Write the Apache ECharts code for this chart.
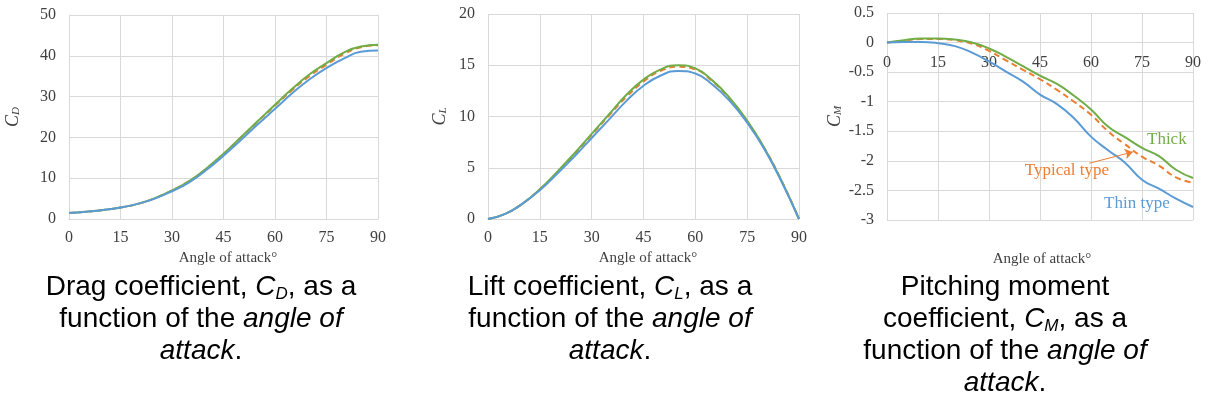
<!DOCTYPE html>
<html><head><meta charset="utf-8">
<script src="https://cdn.jsdelivr.net/npm/echarts@6/dist/echarts.min.js"></script>
<style>html,body{margin:0;padding:0;background:#fff}#c{width:1209px;height:405px}</style>
</head><body><div id="c"></div>
<script>
const angles = [0,5,10,15,20,25,30,35,40,45,50,55,60,65,70,75,80,85,90];

const cdThin    = [1.5,1.8,2.2,2.8,3.7,5.0,6.8,9.0,12.0,15.5,19.3,23.2,27.0,30.8,34.2,37.0,39.3,41.0,41.3];
const cdTypical = [1.5,1.8,2.2,2.8,3.7,5.1,7.0,9.3,12.3,15.9,19.9,23.9,27.8,31.6,35.0,37.8,40.4,42.1,42.6];
const cdThick   = [1.5,1.8,2.2,2.8,3.7,5.1,7.0,9.3,12.4,16.0,20.0,24.0,28.0,31.9,35.4,38.2,40.8,42.3,42.7];

const clThin    = [0,0.5,1.5,2.8,4.4,6.1,7.9,9.7,11.5,13.0,14.0,14.45,14.2,13.1,11.5,9.4,6.8,3.6,0];
const clTypical = [0,0.5,1.5,2.9,4.5,6.3,8.2,10.1,11.9,13.4,14.45,14.85,14.6,13.4,11.7,9.5,6.9,3.7,0];
const clThick   = [0,0.5,1.5,2.9,4.6,6.4,8.3,10.2,12.1,13.6,14.6,15.0,14.7,13.5,11.8,9.6,6.9,3.7,0];

const cmThin    = [0,0.01,0.01,-0.01,-0.06,-0.17,-0.32,-0.49,-0.66,-0.88,-1.04,-1.28,-1.59,-1.82,-2.03,-2.32,-2.47,-2.64,-2.78];
const cmTypical = [0,0.03,0.06,0.06,0.04,-0.02,-0.14,-0.30,-0.46,-0.62,-0.80,-1.00,-1.22,-1.50,-1.72,-1.93,-2.08,-2.28,-2.37];
const cmThick   = [0,0.04,0.07,0.07,0.05,0.0,-0.10,-0.24,-0.40,-0.56,-0.70,-0.90,-1.13,-1.42,-1.60,-1.78,-1.92,-2.15,-2.29];

const BLUE='#5B9BD5', ORANGE='#ED7D31', GREEN='#70AD47', GRID='#D9D9D9', TXT='#404040';
const SERIF='"Liberation Serif","Times New Roman",serif';
const SANS='"Liberation Sans",Arial,sans-serif';

const pairs = v => angles.map((a,i)=>[a,v[i]]);

const grids = [
  {left:69, top:15, width:309, height:204},
  {left:488, top:14, width:311, height:205},
  {left:887, top:13, width:306, height:207}
];
function xAx(i){
  return {type:'value', gridIndex:i, min:0, max:90, interval:15,
    axisLine:{show:true, onZero:false, lineStyle:{color:GRID, width:1}},
    axisTick:{show:false},
    axisLabel:{color:TXT, fontFamily:SERIF, fontSize:16, margin:11},
    splitLine:{show:true, lineStyle:{color:GRID, width:1}}};
}
function yAx(i,min,max,interval,sub,gap){
  return {type:'value', gridIndex:i, min:min, max:max, interval:interval,
    axisLine:{show:false}, axisTick:{show:false},
    axisLabel:{color:TXT, fontFamily:SERIF, fontSize:16, margin:13},
    splitLine:{show:true, lineStyle:{color:GRID, width:1}},
    name:'{i|C}{s|'+sub+'}', nameLocation:'middle', nameRotate:90, nameGap:gap,
    nameTextStyle:{rich:{
      i:{fontFamily:SERIF, fontStyle:'italic', fontSize:18, color:TXT},
      s:{fontFamily:SERIF, fontStyle:'italic', fontSize:11, color:TXT, verticalAlign:'bottom', padding:[7,0,0,0]}
    }}};
}
function line(name,data,color,xi,dashed){
  return {name:name, type:'line', xAxisIndex:xi, yAxisIndex:xi, data:pairs(data), smooth:true,
    showSymbol:false, symbol:'none', z: dashed?2:3,
    lineStyle:{color:color, width:2, type: dashed?[6,4]:'solid'}};
}
function note(x,y,text,color){
  return {coord:[x,y], symbol:'circle', symbolSize:1, itemStyle:{color:'rgba(0,0,0,0)'},
    label:{show:true, formatter:text, color:color, fontFamily:SERIF, fontSize:17, position:'inside'}};
}
const richCap = {
  n:{fontFamily:SANS, fontSize:28, color:'#000', lineHeight:32},
  i:{fontFamily:SANS, fontSize:28, fontStyle:'italic', color:'#000', lineHeight:32},
  s:{fontFamily:SANS, fontSize:17, fontStyle:'italic', color:'#000', lineHeight:32, verticalAlign:'bottom', padding:[10,0,0,0]}
};
function cap(text,cx){
  return {text:text, left:cx, top:271, textAlign:'center', padding:0,
    textStyle:{rich:richCap, fontFamily:SANS, fontSize:28, lineHeight:32, fontWeight:'normal', color:'#000'}};
}
function xTitle(cx,top){
  return {text:'Angle of attack°', left:cx, top:top, textAlign:'center',
    textStyle:{fontFamily:SERIF, fontSize:15, fontWeight:'normal', color:TXT}};
}

const x3 = xAx(2);
x3.position = 'top';
x3.offset = -(207 * 0.5 / 3.5);
x3.axisLabel.inside = true;
x3.axisLabel.margin = 12;

const chart = echarts.init(document.getElementById('c'), null, {renderer:'canvas'});
chart.setOption({
  animation:false,
  backgroundColor:'#fff',
  title:[
    xTitle(223,246), xTitle(643,246), xTitle(1037,247),
    cap('{n|Drag coefficient, }{i|C}{s|D}{n|, as a}\n{n|function of the }{i|angle of}\n{i|attack}{n|.}',201),
    cap('{n|Lift coefficient, }{i|C}{s|L}{n|, as a}\n{n|function of the }{i|angle of}\n{i|attack}{n|.}',610),
    cap('{n|Pitching moment}\n{n|coefficient, }{i|C}{s|M}{n|, as a}\n{n|function of the }{i|angle of}\n{i|attack}{n|.}',1005)
  ],
  grid:grids,
  xAxis:[xAx(0),xAx(1),x3],
  yAxis:[yAx(0,0,50,10,'D',47), yAx(1,0,20,5,'L',39), yAx(2,-3,0.5,0.5,'M',43)],
  series:[
    line('Typical type',cdTypical,ORANGE,0,true),
    line('Thick',cdThick,GREEN,0,false),
    line('Thin type',cdThin,BLUE,0,false),
    line('Typical type',clTypical,ORANGE,1,true),
    line('Thick',clThick,GREEN,1,false),
    line('Thin type',clThin,BLUE,1,false),
    Object.assign(line('Typical type',cmTypical,ORANGE,2,true),{
      markPoint:{silent:true, data:[note(52.9,-2.16,'Typical type',ORANGE)]},
      markLine:{silent:true, symbol:['none','arrow'], symbolSize:8, label:{show:false},
        lineStyle:{color:ORANGE, width:1, type:'solid'},
        data:[[{coord:[59.5,-2.04]},{coord:[72.3,-1.85]}]]}
    }),
    Object.assign(line('Thick',cmThick,GREEN,2,false),{
      markPoint:{silent:true, data:[note(82.3,-1.64,'Thick',GREEN)]}
    }),
    Object.assign(line('Thin type',cmThin,BLUE,2,false),{
      markPoint:{silent:true, data:[note(73.5,-2.72,'Thin type',BLUE)]}
    })
  ]
});
</script></body></html>
